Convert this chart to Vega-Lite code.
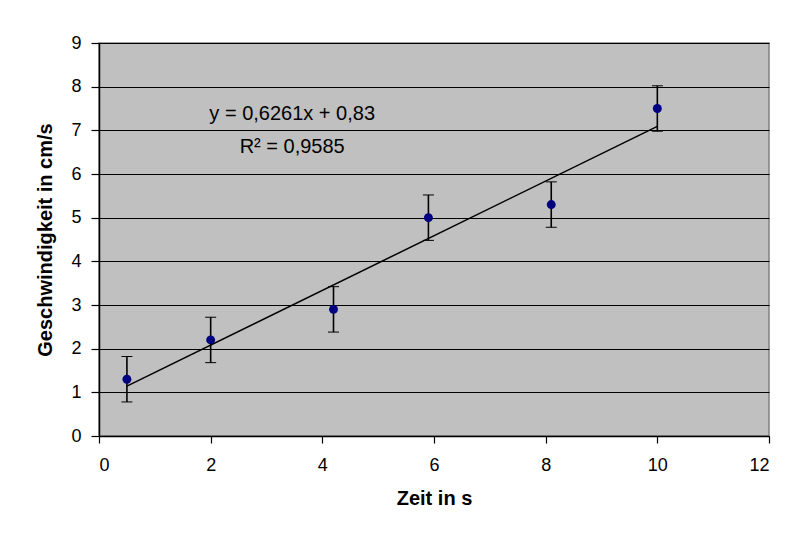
{
  "$schema": "https://vega.github.io/schema/vega-lite/v6.json",
  "width": 670,
  "height": 393,
  "autosize": {"type": "none"},
  "padding": {"left": 99, "top": 43, "right": 24, "bottom": 98},
  "background": "white",
  "config": {
    "font": "Liberation Sans",
    "view": {"fill": "#C0C0C0", "stroke": "#808080", "strokeWidth": 1.5},
    "axis": {
      "labelFont": "Liberation Sans",
      "labelFontSize": 18,
      "labelColor": "black",
      "titleFont": "Liberation Sans",
      "titleFontSize": 20,
      "titleFontWeight": "bold",
      "titleColor": "black",
      "domainColor": "black",
      "domainWidth": 1.5,
      "tickColor": "black",
      "tickWidth": 1.2
    }
  },
  "datasets": {
    "pts": [
      {"t": 0.5, "v": 1.3, "lo": 0.78, "hi": 1.82},
      {"t": 2.0, "v": 2.2, "lo": 1.68, "hi": 2.72},
      {"t": 4.2, "v": 2.9, "lo": 2.38, "hi": 3.42},
      {"t": 5.9, "v": 5.0, "lo": 4.48, "hi": 5.52},
      {"t": 8.1, "v": 5.3, "lo": 4.78, "hi": 5.82},
      {"t": 10.0, "v": 7.5, "lo": 6.98, "hi": 8.02}
    ],
    "labels": [
      {"t": 3.46, "v": 7.23, "txt": "y = 0,6261x + 0,83"},
      {"t": 3.46, "v": 6.47, "txt": "R² = 0,9585"}
    ]
  },
  "encoding": {
    "x": {
      "field": "t", "type": "quantitative",
      "scale": {"domain": [0, 12], "nice": false, "zero": false},
      "axis": {"title": "Zeit in s", "values": [0, 2, 4, 6, 8, 10, 12], "grid": false, "tickSize": 7, "labelPadding": 13, "titlePadding": 14}
    },
    "y": {
      "field": "v", "type": "quantitative",
      "scale": {"domain": [0, 9], "nice": false},
      "axis": {"title": "Geschwindigkeit in cm/s", "values": [0, 1, 2, 3, 4, 5, 6, 7, 8, 9], "grid": true, "gridColor": "black", "gridWidth": 1, "gridOpacity": 1, "tickSize": 8, "labelPadding": 10, "titlePadding": 15}
    }
  },
  "layer": [
    {
      "data": {"name": "pts"},
      "mark": {"type": "errorbar", "ticks": {"size": 11, "color": "black", "strokeWidth": 2, "opacity": 1}, "rule": {"color": "black", "strokeWidth": 1.6, "opacity": 1}},
      "encoding": {
        "y": {"field": "lo", "type": "quantitative"},
        "y2": {"field": "hi"}
      }
    },
    {
      "data": {"name": "pts"},
      "mark": {"type": "circle", "size": 80, "color": "#000080", "opacity": 1}
    },
    {
      "data": {"name": "pts"},
      "transform": [{"regression": "v", "on": "t"}],
      "mark": {"type": "line", "color": "black", "strokeWidth": 1.5}
    },
    {
      "data": {"name": "labels"},
      "mark": {"type": "text", "font": "Liberation Sans", "fontSize": 20, "color": "black", "align": "center", "baseline": "alphabetic"},
      "encoding": {"text": {"field": "txt"}}
    }
  ]
}
